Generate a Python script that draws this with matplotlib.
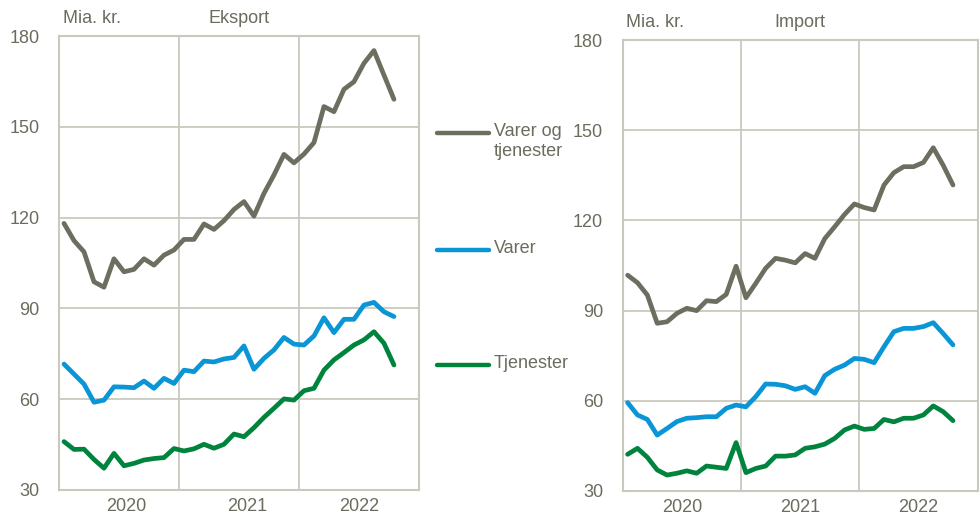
import matplotlib.pyplot as plt
from matplotlib.lines import Line2D
import numpy as np

# monthly, Jan 2020 - Oct 2022 (mia. kr.)
eks_total = [118.1, 112.4, 108.7, 98.8, 97.0, 106.4, 102.1, 102.9, 106.4, 104.3, 107.6, 109.3,
             112.8, 112.8, 117.9, 116.1, 119.0, 122.7, 125.3, 120.5, 128.0, 134.1, 140.9, 138.1,
             141.0, 144.8, 156.7, 155.0, 162.4, 164.9, 171.0, 175.2, 167.1, 159.1]
eks_varer = [71.6, 68.3, 65.0, 59.0, 59.7, 64.1, 64.0, 63.8, 66.0, 63.6, 66.9, 65.2,
             69.6, 69.1, 72.6, 72.3, 73.3, 73.8, 77.6, 69.9, 73.5, 76.3, 80.4, 78.2,
             77.9, 80.9, 86.9, 82.0, 86.4, 86.4, 91.1, 92.0, 88.9, 87.3]
eks_tjen = [46.0, 43.4, 43.5, 40.1, 37.2, 42.1, 38.0, 38.8, 39.9, 40.4, 40.7, 43.7,
            42.9, 43.6, 45.1, 43.8, 45.1, 48.5, 47.6, 50.6, 54.0, 57.0, 60.1, 59.7,
            62.8, 63.6, 69.6, 73.0, 75.4, 77.9, 79.6, 82.3, 78.5, 71.3]

imp_total = [101.8, 99.3, 95.2, 85.8, 86.3, 89.1, 90.8, 90.0, 93.3, 93.0, 95.4, 104.8,
             94.3, 99.1, 104.1, 107.4, 106.8, 105.9, 109.0, 107.4, 114.0, 117.9, 122.0, 125.5,
             124.3, 123.5, 131.8, 135.9, 137.9, 137.9, 139.3, 144.2, 138.4, 131.8]
imp_varer = [59.4, 55.3, 53.8, 48.6, 50.8, 53.1, 54.2, 54.4, 54.7, 54.7, 57.5, 58.6,
             58.0, 61.4, 65.6, 65.5, 65.0, 63.8, 64.7, 62.5, 68.4, 70.5, 71.9, 74.1,
             73.8, 72.7, 78.0, 83.0, 84.1, 84.1, 84.7, 86.0, 82.4, 78.6]
imp_tjen = [42.2, 44.2, 41.2, 37.0, 35.3, 35.9, 36.7, 35.9, 38.3, 37.9, 37.5, 46.1,
            36.1, 37.5, 38.3, 41.6, 41.6, 42.0, 44.2, 44.7, 45.6, 47.5, 50.3, 51.6,
            50.5, 50.8, 53.8, 53.0, 54.2, 54.2, 55.3, 58.3, 56.4, 53.4]

years = ['2020', '2021', '2022']
yticks = [30, 60, 90, 120, 150, 180]
labels = ['Varer og\ntjenester', 'Varer', 'Tjenester']

c_total = '#6e6e60'
c_varer = '#0a95d6'
c_tjen = '#00843d'
c_text = '#6b6b5e'
c_grid = '#c9c9bd'

plt.rcParams['font.family'] = ['Liberation Sans', 'DejaVu Sans']
fs = 13

fig = plt.figure(figsize=(9.8, 5.2), dpi=100)
ax1 = fig.add_axes([0.0602, 0.0577, 0.3673, 0.873])
ax2 = fig.add_axes([0.6354, 0.0558, 0.3622, 0.867])


def draw(ax, total, varer, tjen, title, ypos):
    x = np.arange(len(total))
    ax.plot(x, total, color=c_total, lw=3.4, solid_joinstyle='round', solid_capstyle='round', zorder=3)
    ax.plot(x, varer, color=c_varer, lw=3.4, solid_joinstyle='round', solid_capstyle='round', zorder=3)
    ax.plot(x, tjen, color=c_tjen, lw=3.4, solid_joinstyle='round', solid_capstyle='round', zorder=3)
    ax.set_xlim(-0.5, 35.5)
    ax.set_ylim(30, 180)
    ax.set_yticks(yticks)
    ax.set_yticklabels([str(v) for v in yticks], fontsize=fs, color=c_text)
    ax.set_xticks([11.5, 23.5])
    ax.set_xticklabels([])
    ax.set_xticks(ypos, minor=True)
    ax.set_xticklabels(years, minor=True, fontsize=fs, color=c_text)
    ax.tick_params(axis='both', which='both', length=0)
    ax.tick_params(axis='y', pad=14)
    ax.tick_params(axis='x', which='minor', pad=6)
    ax.grid(True, which='major', color=c_grid, lw=1.3, zorder=0)
    for s in ax.spines.values():
        s.set_color(c_grid)
        s.set_linewidth(1.5)
    ax.text(0.01, 1.02, 'Mia. kr.', transform=ax.transAxes, fontsize=fs, color=c_text,
            ha='left', va='bottom')
    ax.text(0.5, 1.02, title, transform=ax.transAxes, fontsize=fs, color=c_text,
            ha='center', va='bottom')


draw(ax1, eks_total, eks_varer, eks_tjen, 'Eksport', [6.2, 18.3, 29.5])
draw(ax2, imp_total, imp_varer, imp_tjen, 'Import', [5.5, 17.5, 29.5])

# legend in the middle
leg_y = [133, 250, 365]
for lab, col, yy in zip(labels, [c_total, c_varer, c_tjen], leg_y):
    yf = 1 - yy / 520
    fig.add_artist(Line2D([437 / 980, 489 / 980], [yf, yf], color=col, lw=3.2,
                          solid_capstyle='round'))
    fig.text(494 / 980, yf + 0.019, lab, fontsize=fs, color=c_text, ha='left', va='top',
             linespacing=1.25)

fig.savefig('out.png', dpi=100)
